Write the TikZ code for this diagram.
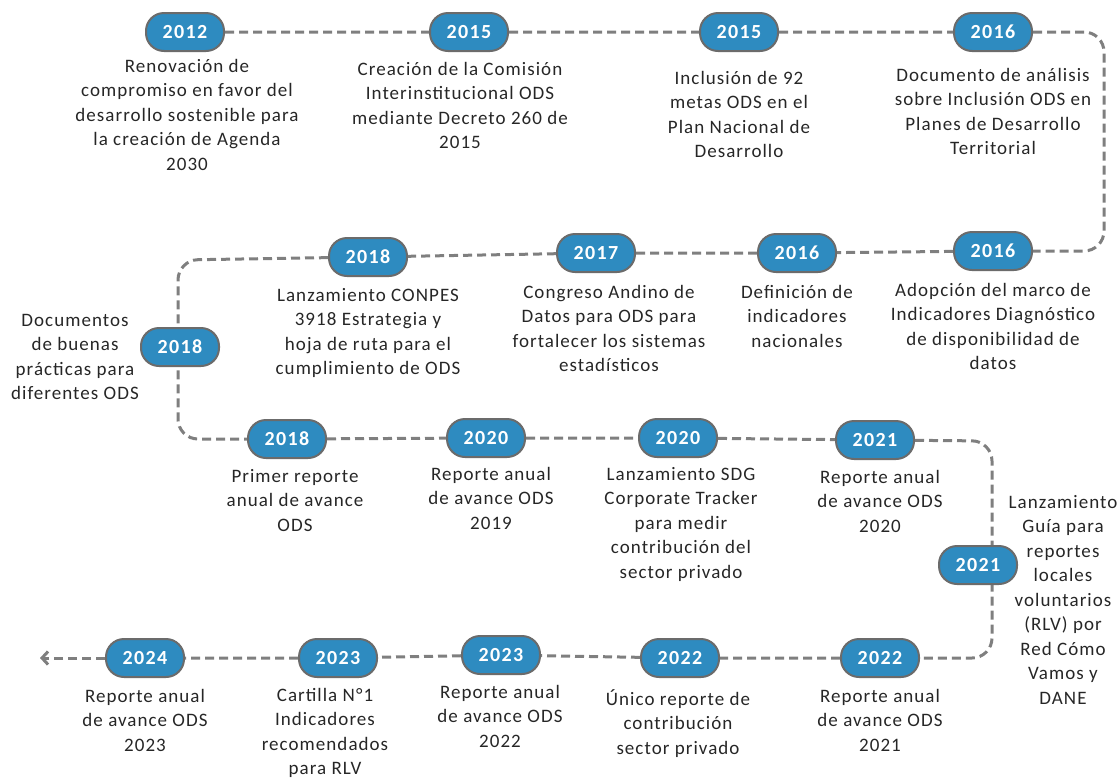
\documentclass[tikz,border=0pt]{standalone}
\usepackage{fontspec}
\setmainfont[LetterSpace=5.5]{Carlito}
\usetikzlibrary{arrows.meta,backgrounds}
\definecolor{badgeblue}{HTML}{2E8BC0}
\definecolor{bordergray}{HTML}{6B6B6B}
\definecolor{linegray}{HTML}{7F7F7F}
\definecolor{txt}{HTML}{262626}
\begin{document}
\begin{tikzpicture}[x=1pt,y=-1pt,
  yr/.style={draw=bordergray, line width=2pt, fill=badgeblue, rounded corners=18pt,
    minimum width=78pt, minimum height=38pt, inner sep=0pt, text=white,
    font=\bfseries\fontsize{20}{22}\selectfont\addfontfeatures{LetterSpace=7}},
  desc/.style={align=center, anchor=north, inner sep=0pt, text=txt,
    font=\fontsize{19}{24.5}\selectfont},
  tl/.style={draw=linegray, line width=3pt, dash pattern=on 9pt off 5pt, rounded corners=20pt}
]
\useasboundingbox (0,0) rectangle (1120,780);
% badges
\node[yr] (b1) at (185,32) {2012};
\node[yr] (b2) at (469,32) {2015};
\node[yr] (b3) at (739,32) {2015};
\node[yr] (b4) at (993,32) {2016};
\node[yr] (b5) at (993,251) {2016};
\node[yr] (b6) at (797,253) {2016};
\node[yr] (b7) at (596,253) {2017};
\node[yr] (b8) at (368,257) {2018};
\node[yr] (b9) at (180,347) {2018};
\node[yr] (b10) at (287,439) {2018};
\node[yr] (b11) at (486,438) {2020};
\node[yr] (b12) at (678,438) {2020};
\node[yr] (b13) at (875,440) {2021};
\node[yr] (b14) at (978,565) {2021};
\node[yr] (b15) at (880,658) {2022};
\node[yr] (b16) at (680,658) {2022};
\node[yr] (b17) at (501,655) {2023};
\node[yr] (b18) at (338,658) {2023};
\node[yr] (b19) at (145,658) {2024};
% corner coordinates
\coordinate (c1) at (1104,32);
\coordinate (c2) at (1104,251);
\coordinate (c3) at (178,260);
\coordinate (c4) at (178,439);
\coordinate (c5) at (992,441);
\coordinate (c6) at (992,658);
\coordinate (end) at (40,658);
\begin{scope}[on background layer]
\draw[tl] (b1) -- (b2) -- (b3) -- (b4) -- (c1) -- (c2) -- (b5) -- (b6) -- (b7) -- (b8) -- (c3) -- (c4) -- (b10) -- (b11) -- (b12) -- (b13) -- (c5) -- (c6) -- (b15) -- (b16) -- (b17) -- (b18) -- (b19);
\draw[draw=linegray, line width=3pt, dash pattern=on 9pt off 5pt, -{Straight Barb[length=6pt,width=13pt,line width=3pt]}] (b19) -- (end);
\end{scope}
% descriptions
\node[desc] (t1) at (187,59) {Renovación de\\compromiso en favor del\\desarrollo sostenible para\\la creación de Agenda\\2030};
\node[desc] (t2) at (460,62) {Creación de la Comisión\\Interinstitucional ODS\\mediante Decreto 260 de\\2015};
\node[desc] (t3) at (739,71) {Inclusión de 92\\metas ODS en el\\Plan Nacional de\\Desarrollo};
\node[desc] (t4) at (993,68) {Documento de análisis\\sobre Inclusión ODS en\\Planes de Desarrollo\\Territorial};
\node[desc] (t5) at (993,283) {Adopción del marco de\\Indicadores Diagnóstico\\de disponibilidad de\\datos};
\node[desc] (t6) at (797,285) {Definición de\\indicadores\\nacionales};
\node[desc] (t7) at (609,285) {Congreso Andino de\\Datos para ODS para\\fortalecer los sistemas\\estadísticos};
\node[desc] (t8) at (368,288) {Lanzamiento CONPES\\3918 Estrategia y\\hoja de ruta para el\\cumplimiento de ODS};
\node[desc] (t9) at (75,314) {Documentos\\de buenas\\prácticas para\\diferentes ODS};
\node[desc] (t10) at (295,469) {Primer reporte\\anual de avance\\ODS};
\node[desc] (t11) at (491,467) {Reporte anual\\de avance ODS\\2019};
\node[desc] (t12) at (681,467) {Lanzamiento SDG\\Corporate Tracker\\para medir\\contribución del\\sector privado};
\node[desc] (t13) at (880,470) {Reporte anual\\de avance ODS\\2020};
\node[desc] (t14) at (1063,495) {Lanzamiento\\Guía para\\reportes\\locales\\voluntarios\\(RLV) por\\Red Cómo\\Vamos y\\DANE};
\node[desc] (t15) at (880,689) {Reporte anual\\de avance ODS\\2021};
\node[desc] (t16) at (678,689) {Único reporte de\\contribución\\sector privado};
\node[desc] (t17) at (500,685) {Reporte anual\\de avance ODS\\2022};
\node[desc] (t18) at (325,688) {Cartilla N°1\\Indicadores\\recomendados\\para RLV};
\node[desc] (t19) at (145,689) {Reporte anual\\de avance ODS\\2023};
\end{tikzpicture}
\end{document}
